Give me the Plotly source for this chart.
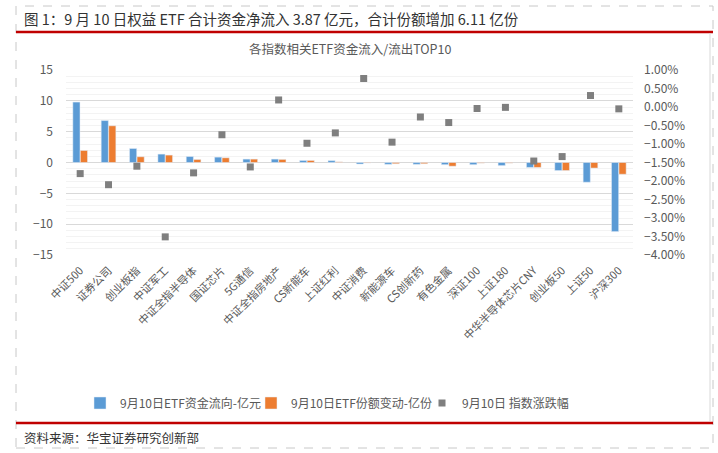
import plotly.graph_objects as go

categories = ["中证500", "证券公司", "创业板指", "中证军工", "中证全指半导体", "国证芯片", "5G通信",
              "中证全指房地产", "CS新能车", "上证红利", "中证消费", "新能源车", "CS创新药", "有色金属",
              "深证100", "上证180", "中华半导体芯片CNY", "创业板50", "上证50", "沪深300"]
flow = [9.8, 6.8, 2.27, 1.36, 0.97, 0.87, 0.55, 0.55, 0.33, 0.30,
        -0.25, -0.3, -0.3, -0.35, -0.35, -0.5, -0.8, -1.3, -3.2, -11.2]
shares = [1.95, 5.95, 0.93, 1.2, 0.49, 0.76, 0.55, 0.5, 0.33, 0.1,
          -0.08, -0.2, -0.2, -0.6, -0.1, -0.1, -0.8, -1.3, -0.9, -1.9]
change = [-0.0180, -0.0210, -0.0160, -0.0351, -0.0178, -0.0075, -0.0162, 0.0019, -0.0098, -0.0070,
          0.0077, -0.0095, -0.0027, -0.0042, -0.0004, -0.0001, -0.0146, -0.0134, 0.0031, -0.0005]

header = "图 1：9 月 10 日权益 ETF 合计资金净流入 3.87 亿元，合计份额增加 6.11 亿份"
chart_title = "各指数相关ETF资金流入/流出TOP10"
source = "资料来源：华宝证券研究创新部"
names = ["9月10日ETF资金流向-亿元", "9月10日ETF份额变动-亿份", "9月10日 指数涨跌幅"]

W, H = 718, 453
L, R, T, B = 66, 633, 70, 255
GRAY = "#595959"
FONT = "Noto Sans CJK SC, Liberation Sans, Arial, sans-serif"

def px(x):
    return (x - L) / (R - L)

def py(y):
    return (B - y) / (B - T)

fig = go.Figure()
fig.add_trace(go.Bar(x=categories, y=flow, name=names[0], marker=dict(color="#5B9BD5")))
fig.add_trace(go.Bar(x=categories, y=shares, name=names[1], marker=dict(color="#ED7D31")))
fig.add_trace(go.Scatter(x=categories, y=change, name=names[2], mode="markers", yaxis="y2",
                         marker=dict(symbol="square", size=7, color="#7F7F7F")))

shapes = [
    dict(type="rect", xref="paper", yref="paper", x0=px(16), x1=px(713), y0=py(448), y1=py(6),
         line=dict(color="#C8C8C8", width=1, dash="dash"), layer="below"),
    dict(type="line", xref="paper", yref="paper", x0=px(16), x1=px(713), y0=py(32), y1=py(32),
         line=dict(color="#C00000", width=2.5)),
    dict(type="line", xref="paper", yref="paper", x0=px(16), x1=px(713), y0=py(423), y1=py(423),
         line=dict(color="#C00000", width=2.5)),
    dict(type="line", xref="paper", yref="paper", x0=px(710), x1=px(710), y0=py(421), y1=py(33),
         line=dict(color="#D9D9D9", width=1)),
]

annotations = [
    dict(text=header, xref="paper", yref="paper", x=px(22), y=py(18), xanchor="left", yanchor="middle",
         showarrow=False, font=dict(size=14.5, color="#333333", family=FONT)),
    dict(text=chart_title, xref="paper", yref="paper", x=px(350), y=py(48), xanchor="center", yanchor="middle",
         showarrow=False, font=dict(size=12.5, color=GRAY, family=FONT)),
    dict(text=source, xref="paper", yref="paper", x=px(22), y=py(437), xanchor="left", yanchor="middle",
         showarrow=False, font=dict(size=12.5, color="#333333", family=FONT)),
]

fig.update_layout(
    width=W, height=H,
    margin=dict(l=L, r=W - R, t=T, b=H - B, pad=0, autoexpand=False),
    paper_bgcolor="white", plot_bgcolor="white",
    font=dict(family=FONT, color=GRAY, size=12),
    barmode="group", bargap=0.47, bargroupgap=0.05,
    showlegend=True,
    legend=dict(orientation="h", x=px(80), y=py(403), xanchor="left", yanchor="middle",
                font=dict(size=12, color=GRAY), itemwidth=30, traceorder="normal",
                entrywidth=126, entrywidthmode="pixels"),
    xaxis=dict(tickangle=-45, tickfont=dict(size=11, color=GRAY), showgrid=False, zeroline=False,
               showline=False, ticks="", ticklabelstandoff=6, automargin=False,
               range=[-0.5, len(categories) - 0.5]),
    yaxis=dict(range=[-15, 15], dtick=5, tick0=0, showgrid=True, gridcolor="#D9D9D9", gridwidth=1,
               zeroline=True, zerolinecolor="#D9D9D9", zerolinewidth=1,
               minor=dict(dtick=1, showgrid=True, gridcolor="#F3F3F3", gridwidth=1),
               tickfont=dict(size=12, color=GRAY), ticks="", ticklabelstandoff=12, showline=False,
               automargin=False),
    yaxis2=dict(range=[-0.04, 0.01], dtick=0.005, tick0=0, overlaying="y", side="right",
                tickformat=".2%", showgrid=False, zeroline=False, showline=False,
                tickfont=dict(size=12, color=GRAY), ticks="", ticklabelstandoff=10, automargin=False),
    shapes=shapes, annotations=annotations,
)

fig.write_html("out.html", config={"displayModeBar": False},
               post_script="document.body.style.margin='0';")
